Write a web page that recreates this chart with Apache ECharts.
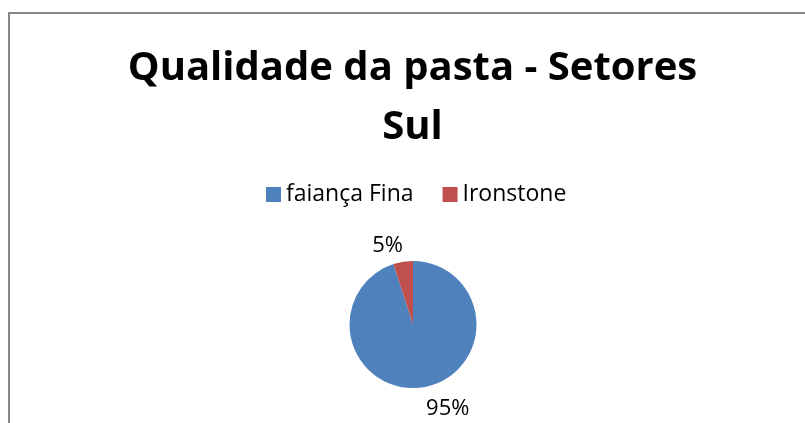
<!DOCTYPE html>
<html>
<head>
<meta charset="utf-8">
<style>
  html, body { margin: 0; padding: 0; background: #fff; overflow: hidden; }
  #main { width: 805px; height: 423px; }
</style>
<script src="https://cdn.jsdelivr.net/npm/echarts@6/dist/echarts.min.js"></script>
</head>
<body>
<div id="main"></div>
<script>
// dados do gráfico
var categorias = ['faiança Fina', 'Ironstone'];
var valores = [95, 5];
var cores = ['#4F81BD', '#C0504D'];

var chart = echarts.init(document.getElementById('main'));

var dados = categorias.map(function (nome, i) {
    return { name: nome, value: valores[i], itemStyle: { color: cores[i] } };
});

var option = {
    animation: false,
    backgroundColor: '#fff',
    // moldura cinza (cortada à direita e em baixo)
    graphic: [{
        type: 'rect',
        shape: { x: 9, y: 13, width: 900, height: 500 },
        style: { fill: 'none', stroke: '#878787', lineWidth: 2 },
        silent: true
    }],
    title: {
        text: 'Qualidade da pasta - Setores\nSul',
        left: 412.5,
        textAlign: 'center',
        top: 39,
        padding: 0,
        textStyle: {
            fontFamily: 'Open Sans',
            fontWeight: 'bold',
            fontSize: 40,
            lineHeight: 59,
            color: '#000'
        }
    },
    legend: {
        data: categorias,
        top: 183,
        left: 266,
        padding: 0,
        itemWidth: 15,
        itemHeight: 15,
        itemGap: 29,
        icon: 'rect',
        textStyle: { fontFamily: 'Open Sans', fontSize: 23, color: '#000' }
    },
    series: [{
        name: 'Qualidade da pasta',
        type: 'pie',
        center: [413, 324.5],
        radius: 63.5,
        startAngle: 90,
        clockwise: true,
        data: dados,
        itemStyle: { borderColor: '#fff', borderWidth: 0 },
        label: {
            show: true,
            position: 'outside',
            formatter: '{d}%',
            fontFamily: 'Open Sans',
            fontSize: 22,
            color: '#000'
        },
        labelLine: { show: false, length: 20, length2: 0 },
        // ajuste fino dos rótulos, como no Excel
        labelLayout: function (params) {
            return params.dataIndex === 1 ? { dx: 8, dy: 3.5 } : { dx: -5, dy: 1.5 };
        }
    }]
};

chart.setOption(option);
</script>
</body>
</html>
